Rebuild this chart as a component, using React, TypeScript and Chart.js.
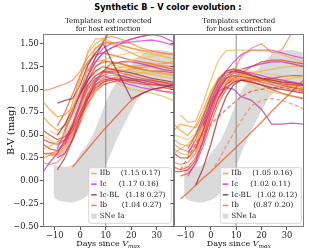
import React, { useEffect, useRef } from 'react';
import { Chart, registerables } from 'chart.js';

Chart.register(...registerables);

// ---------------- data ----------------
const days = [-14.5, -12, -9, -6, -3, 0, 3, 6, 9, 12, 16, 20, 24, 28, 32, 36.5];
const xRange = [-14.5, 36.5];
const yRange = [-0.5, 1.6];
const xTickValues = [-10, 0, 10, 20, 30];
const yTickValues = [-0.5, -0.25, 0, 0.25, 0.5, 0.75, 1, 1.25, 1.5];
const refDay = 10;

const bandDays = [-10.5, -10, -8, -6, -4, -2, 0, 2, 4, 6, 8, 10, 12, 14, 16, 18, 20, 22, 24, 26, 28, 30, 32, 34, 36.5];
const bandUpper = [0.17, 0.17, 0.16, 0.15, 0.16, 0.2, 0.3, 0.37, 0.45, 0.57, 0.71, 0.86, 0.98, 1.06, 1.13, 1.2, 1.27, 1.33, 1.38, 1.41, 1.42, 1.43, 1.43, 1.42, 1.4];
const bandLower = [-0.13, -0.19, -0.22, -0.23, -0.24, -0.23, -0.21, -0.18, -0.12, -0.05, 0.04, 0.15, 0.3, 0.43, 0.55, 0.66, 0.77, 0.87, 0.94, 0.99, 1.01, 1.02, 1.02, 1.01, 1.0];

const typeLabels = ['IIb', 'Ic', 'Ic-BL', 'Ib'];
const bandLabel = 'SNe Ia';
const statsNotCorrected = ['(1.15 0.17)', '(1.17 0.16)', '(1.18 0.27)', '(1.04 0.27)'];
const statsCorrected = ['(1.05 0.16)', '(1.02 0.11)', '(1.02 0.12)', '(0.87 0.20)'];

type S = (number | null)[];

// Left panel: templates not corrected for host extinction
const leftIIb: S[] = [
  [null, null, 0.42, 0.52, 0.78, 1.1, 1.42, 1.55, 1.56, 1.52, 1.48, 1.45, 1.43, 1.4, 1.37, 1.33],
  [0.86, 0.78, 0.7, 0.72, 0.8, 1.0, 1.2, 1.3, 1.32, 1.3, 1.28, 1.25, 1.22, 1.2, 1.18, 1.15],
  [0.5, 0.45, 0.4, 0.5, 0.65, 0.85, 1.05, 1.18, 1.25, 1.27, 1.25, 1.22, 1.2, 1.18, 1.17, 1.15],
  [0.35, 0.38, 0.42, 0.5, 0.62, 0.8, 1.0, 1.12, 1.18, 1.2, 1.22, 1.2, 1.18, 1.16, 1.14, 1.12],
  [null, null, null, 0.6, 0.85, 1.15, 1.4, 1.5, 1.55, 1.58, 1.55, 1.5, 1.45, 1.42, 1.4, 1.38],
  [null, 0.55, 0.5, 0.55, 0.7, 0.9, 1.1, 1.25, 1.32, 1.35, 1.38, 1.4, 1.4, 1.38, 1.36, 1.34],
  [0.3, 0.28, 0.27, 0.32, 0.45, 0.62, 0.82, 0.98, 1.08, 1.12, 1.15, 1.17, 1.18, 1.18, 1.17, 1.15],
  [0.7, 0.62, 0.55, 0.6, 0.72, 0.9, 1.05, 1.15, 1.2, 1.22, 1.24, 1.25, 1.26, 1.27, 1.28, 1.3],
  [null, null, null, null, 0.5, 0.7, 0.95, 1.1, 1.2, 1.25, 1.3, 1.32, 1.35, 1.36, 1.38, 1.4],
  [null, null, 0.38, 0.45, 0.6, 0.8, 1.0, 1.1, 1.12, 1.1, 1.05, 1.0, 0.98, 0.96, 0.93, 0.88],
  [null, null, null, null, null, 0.95, 1.25, 1.45, 1.52, 1.5, 1.45, 1.4, 1.35, 1.32, 1.3, 1.28],
];
const leftIc: S[] = [
  [null, null, 0.35, 0.55, 0.75, 0.98, 1.15, 1.3, 1.4, 1.45, 1.5, 1.52, 1.53, 1.54, 1.52, 1.48],
  [0.1, 0.2, 0.3, 0.45, 0.62, 0.85, 1.05, 1.15, 1.2, 1.18, 1.15, 1.12, 1.1, 1.08, 1.05, 1.02],
  [null, null, null, 0.4, 0.6, 0.82, 1.02, 1.12, 1.15, 1.12, 1.08, 1.05, 1.02, 1.0, 0.98, 0.97],
  [null, null, 0.25, 0.3, 0.45, 0.65, 0.9, 1.08, 1.2, 1.28, 1.3, 1.3, 1.28, 1.25, 1.22, 1.2],
  [null, null, null, null, null, null, 1.2, 1.35, 1.45, 1.5, 1.52, 1.55, 1.58, 1.6, 1.58, 1.52],
];
const leftIcBL: S[] = [
  [null, null, 0.85, 0.88, 0.9, 1.05, 1.27, 1.4, 1.5, 1.33, 1.12, 0.9, 0.95, 1.0, 1.02, 1.05],
  [null, null, 0.12, 0.25, 0.45, 0.7, 0.9, 1.02, 1.08, 1.1, 1.12, 1.1, 1.08, 1.06, 1.05, 1.04],
  [null, null, 0.5, 0.62, 0.78, 0.95, 1.1, 1.2, 1.25, 1.22, 1.2, 1.18, 1.15, 1.12, 1.1, 1.08],
  [null, null, null, 0.55, 0.75, 0.95, 1.15, 1.35, 1.52, 1.65, null, null, null, null, null, null],
];
const leftIb: S[] = [
  [0.99, 1.0, 1.03, 1.06, 1.1, 1.2, 1.35, 1.45, 1.5, 1.52, 1.48, 1.45, 1.42, 1.42, 1.4, 1.38],
  [0.3, 0.3, 0.32, 0.4, 0.55, 0.75, 0.95, 1.1, 1.18, 1.2, 1.18, 1.15, 1.12, 1.1, 1.08, 1.05],
  [0.55, 0.5, 0.45, 0.48, 0.58, 0.75, 0.92, 1.05, 1.1, 1.12, 1.1, 1.08, 1.06, 1.05, 1.04, 1.02],
  [0.25, 0.28, 0.3, 0.38, 0.52, 0.7, 0.88, 1.0, 1.08, 1.12, 1.14, 1.12, 1.1, 1.08, 1.07, 1.05],
  [null, null, null, null, 0.15, 0.25, 0.35, 0.45, 0.55, 0.64, 0.76, 0.88, 0.95, 1.0, 1.02, 1.0],
  [0.4, 0.35, 0.33, 0.42, 0.6, 0.85, 1.1, 1.25, 1.3, 1.3, 1.28, 1.25, 1.22, 1.2, 1.2, 1.18],
  [null, 0.3, 0.28, 0.35, 0.5, 0.72, 0.95, 1.08, 1.15, 1.18, 1.2, 1.22, 1.24, 1.25, 1.26, 1.25],
  [null, null, null, null, null, 0.9, 1.15, 1.3, 1.4, 1.45, 1.5, 1.55, 1.58, 1.6, 1.62, 1.62],
  [0.45, 0.42, 0.4, 0.45, 0.55, 0.7, 0.85, 0.98, 1.05, 1.08, 1.1, 1.1, 1.1, 1.1, 1.08, 1.06],
  [0.2, 0.18, 0.2, 0.3, 0.48, 0.7, 0.9, 1.05, 1.12, 1.15, 1.15, 1.12, 1.08, 1.02, 0.98, 0.95],
  [null, null, 0.6, 0.75, 0.95, 1.15, 1.3, 1.38, 1.4, 1.38, 1.35, 1.32, 1.3, 1.28, 1.25, 1.22],
];
const leftIbDashed: S[] = [];

// Right panel: templates corrected for host extinction
const rightIIb: S[] = [
  [null, 0.72, 0.64, 0.65, 0.85, 1.1, 1.32, 1.42, 1.43, 1.43, 1.43, 1.42, 1.42, 1.38, 1.34, 1.3],
  [0.45, 0.4, 0.38, 0.45, 0.62, 0.85, 1.05, 1.15, 1.18, 1.17, 1.14, 1.1, 1.07, 1.05, 1.03, 1.0],
  [0.5, 0.48, 0.45, 0.52, 0.68, 0.9, 1.08, 1.18, 1.22, 1.22, 1.2, 1.18, 1.16, 1.15, 1.14, 1.12],
  [0.35, 0.3, 0.28, 0.38, 0.58, 0.82, 1.0, 1.1, 1.14, 1.14, 1.12, 1.1, 1.1, 1.1, 1.12, 1.15],
  [0.55, 0.62, 0.6, 0.58, 0.72, 0.95, 1.12, 1.2, 1.22, 1.2, 1.15, 1.12, 1.1, 1.08, 1.06, 1.05],
  [null, null, 0.25, 0.3, 0.5, 0.78, 1.0, 1.1, 1.12, 1.1, 1.05, 1.0, 0.97, 0.95, 0.92, 0.9],
  [0.3, 0.35, 0.4, 0.5, 0.65, 0.88, 1.05, 1.12, 1.15, 1.15, 1.18, 1.2, 1.22, 1.24, 1.25, 1.25],
  [0.62, 0.55, 0.5, 0.6, 0.78, 0.98, 1.12, 1.18, 1.2, 1.18, 1.15, 1.12, 1.1, 1.08, 1.05, 1.02],
];
const rightIc: S[] = [
  [null, null, null, null, 0.6, 0.85, 1.05, 1.2, 1.3, 1.38, 1.43, 1.43, 1.43, 1.4, 1.37, 1.34],
  [null, null, 0.3, 0.45, 0.65, 0.85, 0.98, 1.02, 1.0, 0.92, 0.88, 0.78, 0.62, 0.62, 0.63, 0.62],
  [null, null, 0.05, 0.2, 0.45, 0.75, 0.98, 1.12, 1.18, 1.2, 1.18, 1.15, 1.12, 1.1, 1.08, 1.05],
  [null, null, null, 0.35, 0.55, 0.8, 1.02, 1.15, 1.2, 1.22, 1.25, 1.28, 1.3, 1.3, 1.28, 1.25],
];
const rightIcBL: S[] = [
  [null, null, null, -0.05, 0.14, 0.4, 0.7, 0.92, 1.05, 1.1, 1.08, 1.05, 1.02, 1.0, 0.98, 0.96],
  [null, null, 0.35, 0.5, 0.7, 0.92, 1.1, 1.2, 1.22, 1.2, 1.16, 1.12, 1.08, 1.05, 1.02, 1.0],
  [null, null, null, null, 0.6, 0.88, 1.08, 1.18, 1.2, 1.18, 1.15, 1.12, 1.1, 1.08, 1.07, 1.05],
];
const rightIb: S[] = [
  [null, null, null, null, null, null, null, 1.05, 1.2, 1.36, 1.45, 1.5, 1.4, 1.43, 1.62, 1.65],
  [null, -0.2, -0.13, -0.05, 0.03, 0.1, 0.18, 0.26, 0.34, 0.42, 0.53, 0.64, 0.76, 0.87, 0.98, 1.1],
  [0.3, 0.25, 0.25, 0.35, 0.55, 0.8, 1.0, 1.12, 1.15, 1.14, 1.12, 1.1, 1.08, 1.06, 1.05, 1.04],
  [0.2, 0.18, 0.2, 0.3, 0.5, 0.75, 0.95, 1.08, 1.12, 1.12, 1.1, 1.08, 1.05, 1.02, 1.0, 0.98],
  [0.15, 0.12, 0.15, 0.25, 0.45, 0.7, 0.92, 1.05, 1.1, 1.1, 1.08, 1.05, 1.0, 0.96, 0.93, 0.9],
  [0.1, 0.1, 0.12, 0.22, 0.42, 0.68, 0.9, 1.02, 1.08, 1.1, 1.1, 1.1, 1.12, 1.14, 1.15, 1.15],
  [0.4, 0.35, 0.32, 0.4, 0.6, 0.85, 1.05, 1.15, 1.18, 1.16, 1.12, 1.08, 1.05, 1.03, 1.02, 1.0],
  [null, 0.05, 0.08, 0.18, 0.38, 0.62, 0.85, 1.0, 1.08, 1.1, 1.12, 1.12, 1.12, 1.1, 1.08, 1.06],
  [null, null, null, null, null, null, 0.9, 1.05, 1.12, 1.18, 1.25, 1.3, 1.32, 1.32, 1.3, 1.28],
];
const rightIbDashed: S[] = [
  [null, null, null, null, null, 0.1, 0.22, 0.38, 0.52, 0.66, 0.82, 0.88, 0.9, 0.88, 0.84, 0.79],
  [null, 0.12, 0.26, 0.4, 0.52, 0.62, 0.7, 0.78, 0.85, 0.92, 0.98, 1.0, 1.02, 1.02, 1.0, 0.98],
];

// ---------------- styles ----------------
const typeColors: Record<string, string[]> = {
  IIb: ['rgba(236,178,72,0.72)', 'rgba(244,150,40,0.72)', 'rgba(240,196,100,0.72)'],
  Ic: ['rgba(214,48,214,0.72)', 'rgba(196,40,150,0.72)'],
  'Ic-BL': ['rgba(150,40,55,0.75)', 'rgba(172,62,80,0.75)'],
  Ib: ['rgba(255,120,80,0.72)', 'rgba(240,78,32,0.72)', 'rgba(226,48,40,0.72)'],
};
const legendColors = ['#eab253', '#e03fe0', '#a8485a', '#ff7f50'];
const bandColor = '#dadada';
const SERIF = '"DejaVu Serif"';

const fmtNum = (v: number, digits: number) => (v < 0 ? '\u2212' : '') + Math.abs(v).toFixed(digits);

function lineSets(list: S[], type: string, dashed = false) {
  const cols = typeColors[type];
  return list.map((vals, i) => ({
    type: 'line' as const,
    data: days
      .map((d, j) => ({ x: d, y: vals[j] }))
      .filter((p) => p.y !== null && p.y !== undefined),
    borderColor: cols[i % cols.length],
    borderWidth: 1.3,
    borderDash: dashed ? [4, 2.5] : [],
    pointRadius: 0,
    fill: false,
    tension: 0,
    order: 0,
  }));
}

function interleave(groups: any[][]) {
  const out: any[] = [];
  const maxLen = Math.max(...groups.map((g) => g.length));
  for (let i = 0; i < maxLen; i++) groups.forEach((g) => { if (i < g.length) out.push(g[i]); });
  return out;
}

interface Panel {
  key: string;
  canvasLeft: number;
  canvasWidth: number;
  yWidth: number;
  padRight: number;
  showYLabels: boolean;
  title1: { text: string; italic: boolean }[];
  stats: string[];
  legendOffset: number;
  series: { IIb: S[]; Ic: S[]; IcBL: S[]; Ib: S[]; IbDashed: S[] };
}

const panels: Panel[] = [
  {
    key: 'left', canvasLeft: 0, canvasWidth: 176, yWidth: 43.3, padRight: 2.7, showYLabels: true,
    title1: [{ text: 'Templates ', italic: false }, { text: 'not', italic: true }, { text: ' corrected', italic: false }],
    stats: statsNotCorrected, legendOffset: 45.4,
    series: { IIb: leftIIb, Ic: leftIc, IcBL: leftIcBL, Ib: leftIb, IbDashed: leftIbDashed },
  },
  {
    key: 'right', canvasLeft: 168, canvasWidth: 141, yWidth: 6, padRight: 5.6, showYLabels: false,
    title1: [{ text: 'Templates corrected', italic: false }],
    stats: statsCorrected, legendOffset: 46.3,
    series: { IIb: rightIIb, Ic: rightIc, IcBL: rightIcBL, Ib: rightIb, IbDashed: rightIbDashed },
  },
];

function drawPieces(ctx: CanvasRenderingContext2D, pieces: { text: string; font: string; dy: number }[], cx: number, y: number) {
  let total = 0;
  const widths = pieces.map((p) => { ctx.font = p.font; const w = ctx.measureText(p.text).width; total += w; return w; });
  let x = cx - total / 2;
  ctx.textAlign = 'left';
  pieces.forEach((p, i) => { ctx.font = p.font; ctx.fillText(p.text, x, y + p.dy); x += widths[i]; });
}

function decorPlugin(panel: Panel) {
  return {
    id: 'decor_' + panel.key,
    afterDraw(chart: any) {
      const ctx: CanvasRenderingContext2D = chart.ctx;
      const a = chart.chartArea;
      ctx.save();
      // frame
      const fx0 = Math.floor(a.left) + 0.5, fx1 = Math.floor(a.right) + 0.5;
      const fy0 = Math.floor(a.top) + 0.5, fy1 = Math.floor(a.bottom) + 0.5;
      ctx.strokeStyle = '#7c7c7c';
      ctx.lineWidth = 1;
      ctx.strokeRect(fx0, fy0, fx1 - fx0, fy1 - fy0);

      const cx = (a.left + a.right) / 2;
      ctx.fillStyle = '#111';
      // subtitles
      ctx.textBaseline = 'middle';
      drawPieces(ctx, panel.title1.map((p) => ({ text: p.text, font: (p.italic ? 'italic ' : '') + '7px ' + SERIF, dy: 0 })), cx, 21.5);
      drawPieces(ctx, [{ text: 'for host extinction', font: '7px ' + SERIF, dy: 0 }], cx, 28.9);

      // x label
      ctx.textBaseline = 'alphabetic';
      drawPieces(ctx, [
        { text: 'Days since ', font: '8px ' + SERIF, dy: 0 },
        { text: 'V', font: 'italic 8px ' + SERIF, dy: 0 },
        { text: 'max', font: 'italic 5.8px ' + SERIF, dy: 2 },
      ], cx, 245.5);

      // y label
      if (panel.showYLabels) {
        ctx.save();
        ctx.translate(11, (a.top + a.bottom) / 2);
        ctx.rotate(-Math.PI / 2);
        ctx.textAlign = 'center';
        ctx.textBaseline = 'middle';
        ctx.font = '9.8px ' + SERIF;
        ctx.fillText('B-V (mag)', 0, 0);
        ctx.restore();
      }

      // legend
      const bx = a.left + panel.legendOffset;
      const by = a.top + 133.2;
      const bw = a.right - 2 - bx;
      const bh = 55.6;
      const r = 2;
      ctx.beginPath();
      ctx.moveTo(bx + r, by);
      ctx.lineTo(bx + bw - r, by);
      ctx.quadraticCurveTo(bx + bw, by, bx + bw, by + r);
      ctx.lineTo(bx + bw, by + bh - r);
      ctx.quadraticCurveTo(bx + bw, by + bh, bx + bw - r, by + bh);
      ctx.lineTo(bx + r, by + bh);
      ctx.quadraticCurveTo(bx, by + bh, bx, by + bh - r);
      ctx.lineTo(bx, by + r);
      ctx.quadraticCurveTo(bx, by, bx + r, by);
      ctx.closePath();
      ctx.fillStyle = 'rgba(255,255,255,0.8)';
      ctx.fill();
      ctx.strokeStyle = '#cccccc';
      ctx.lineWidth = 0.8;
      ctx.stroke();

      const numOffsets = [32, 30, 37, 33];
      ctx.font = '7.2px ' + SERIF;
      ctx.textBaseline = 'middle';
      ctx.textAlign = 'left';
      typeLabels.forEach((lab, i) => {
        const ry = by + 5.8 + 10.65 * i;
        ctx.strokeStyle = legendColors[i];
        ctx.lineWidth = 1.5;
        ctx.beginPath();
        ctx.moveTo(bx + 2.5, ry);
        ctx.lineTo(bx + 8, ry);
        ctx.stroke();
        ctx.fillStyle = '#222';
        ctx.fillText(lab, bx + 11, ry);
        ctx.fillText(panel.stats[i], bx + numOffsets[i], ry);
      });
      const ry = by + 5.8 + 10.65 * 4;
      ctx.fillStyle = bandColor;
      ctx.fillRect(bx + 2.5, ry - 2.5, 5.5, 5);
      ctx.fillStyle = '#222';
      ctx.fillText(bandLabel, bx + 11, ry);
      ctx.restore();
    },
  };
}

function buildChart(canvas: HTMLCanvasElement, panel: Panel) {
  const s = panel.series;
  const lines = interleave([
    lineSets(s.Ib, 'Ib'),
    lineSets(s.IIb, 'IIb'),
    lineSets(s.Ic, 'Ic'),
    lineSets(s.IcBL, 'Ic-BL'),
    lineSets(s.IbDashed, 'Ib', true),
  ]);
  const refLine = {
    type: 'line' as const,
    data: [{ x: refDay, y: yRange[0] }, { x: refDay, y: yRange[1] }],
    borderColor: '#8c8c8c', borderWidth: 1, pointRadius: 0, fill: false, order: 5,
  };
  const bandTop = {
    type: 'line' as const,
    data: bandDays.map((d, i) => ({ x: d, y: bandUpper[i] })),
    borderColor: 'rgba(0,0,0,0)', borderWidth: 0, pointRadius: 0,
    fill: '+1', backgroundColor: bandColor, order: 10,
  };
  const bandBottom = {
    type: 'line' as const,
    data: bandDays.map((d, i) => ({ x: d, y: bandLower[i] })),
    borderColor: 'rgba(0,0,0,0)', borderWidth: 0, pointRadius: 0, fill: false, order: 11,
  };

  const tickFont = { family: 'DejaVu Serif', size: 8.3 };
  return new Chart(canvas, {
    type: 'line',
    data: { datasets: [...lines, refLine, bandTop, bandBottom] as any },
    options: {
      responsive: false,
      animation: false,
      devicePixelRatio: 1,
      parsing: true,
      layout: { padding: { top: 34.5, left: 0, right: panel.padRight, bottom: 0 } },
      plugins: { legend: { display: false }, tooltip: { enabled: false }, title: { display: false } },
      elements: { point: { radius: 0 }, line: { tension: 0 } },
      scales: {
        x: {
          type: 'linear',
          min: xRange[0],
          max: xRange[1],
          afterBuildTicks: (sc: any) => { sc.ticks = xTickValues.map((v) => ({ value: v })); },
          afterFit: (sc: any) => { sc.height = 25.5; },
          grid: { drawOnChartArea: false, drawTicks: true, tickLength: 3.5, color: '#555' },
          border: { display: false },
          ticks: { font: tickFont, color: '#222', padding: 1, maxRotation: 0, autoSkip: false, callback: (v: any) => fmtNum(Number(v), 0) },
        },
        y: {
          type: 'linear',
          min: yRange[0],
          max: yRange[1],
          afterBuildTicks: (sc: any) => { sc.ticks = yTickValues.map((v) => ({ value: v })); },
          afterFit: (sc: any) => { sc.width = panel.yWidth; },
          grid: { drawOnChartArea: false, drawTicks: true, tickLength: 3.5, color: '#555' },
          border: { display: false },
          ticks: { display: panel.showYLabels, font: tickFont, color: '#222', padding: 1, autoSkip: false, callback: (v: any) => fmtNum(Number(v), 2) },
        },
      },
    } as any,
    plugins: [decorPlugin(panel)],
  });
}

export default function App() {
  const leftRef = useRef<HTMLCanvasElement>(null);
  const rightRef = useRef<HTMLCanvasElement>(null);

  useEffect(() => {
    const charts: Chart[] = [];
    if (leftRef.current) charts.push(buildChart(leftRef.current, panels[0]));
    if (rightRef.current) charts.push(buildChart(rightRef.current, panels[1]));
    return () => charts.forEach((c) => c.destroy());
  }, []);

  return (
    <div style={{ position: 'absolute', left: 0, top: 0, width: 309, height: 252, background: '#fff', overflow: 'hidden' }}>
      <div
        style={{
          position: 'absolute', left: 0, top: 0, width: 336, textAlign: 'center',
          font: 'bold 8.2px "DejaVu Sans"', lineHeight: '14px', color: '#000', whiteSpace: 'nowrap',
        }}
      >
        Synthetic B – V color evolution :
      </div>
      <canvas
        ref={leftRef}
        width={panels[0].canvasWidth}
        height={252}
        style={{ position: 'absolute', left: panels[0].canvasLeft, top: 0, width: panels[0].canvasWidth, height: 252 }}
      />
      <canvas
        ref={rightRef}
        width={panels[1].canvasWidth}
        height={252}
        style={{ position: 'absolute', left: panels[1].canvasLeft, top: 0, width: panels[1].canvasWidth, height: 252 }}
      />
    </div>
  );
}
